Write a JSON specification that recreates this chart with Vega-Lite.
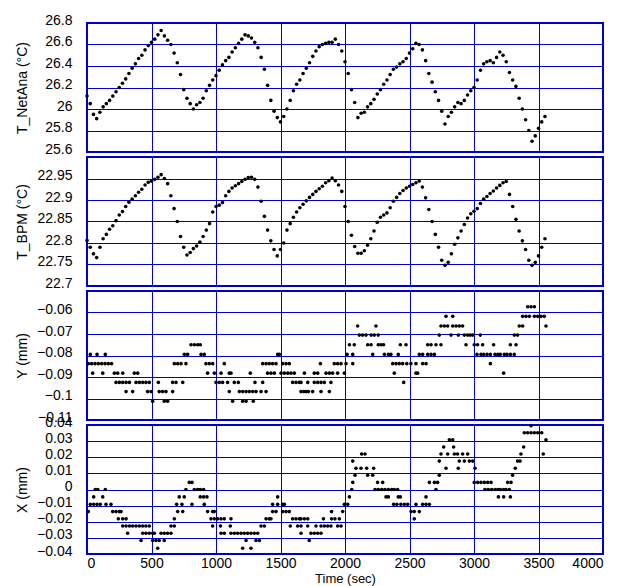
{
 "$schema": "https://vega.github.io/schema/vega-lite/v6.json",
 "padding": {"left": 14, "top": 12, "right": 2, "bottom": 0},
 "background": "white",
 "bounds": "flush",
 "spacing": 5,
 "config": {
  "view": {"stroke": "#0000CC", "strokeWidth": 2},
  "axis": {"grid": true, "gridColor": "#0000CC", "gridWidth": 1, "gridOpacity": 1, "domain": false, "ticks": false, "labelFont": "Liberation Sans", "labelFontSize": 14, "labelColor": "black", "titleFont": "Liberation Sans", "titleFontSize": 14, "titleFontWeight": "normal", "titleColor": "black"}
 },
 "datasets": {
  "tn": [
   {"t":0,"v":26.12},{"t":25,"v":26.05},{"t":50,"v":25.95},{"t":75,"v":25.91},{"t":100,"v":25.97},{"t":125,"v":26.02},{"t":150,"v":26.05},{"t":175,"v":26.08},{"t":200,"v":26.12},{"t":225,"v":26.16},{"t":250,"v":26.2},{"t":275,"v":26.24},{"t":300,"v":26.28},{"t":325,"v":26.33},{"t":350,"v":26.38},{"t":375,"v":26.42},{"t":400,"v":26.47},{"t":425,"v":26.5},{"t":450,"v":26.55},{"t":475,"v":26.59},{"t":500,"v":26.62},{"t":525,"v":26.65},{"t":550,"v":26.69},{"t":575,"v":26.73},{"t":600,"v":26.68},{"t":625,"v":26.64},{"t":650,"v":26.6},{"t":675,"v":26.52},{"t":700,"v":26.43},{"t":725,"v":26.32},{"t":750,"v":26.18},{"t":775,"v":26.1},{"t":800,"v":26.05},{"t":825,"v":26.0},{"t":850,"v":26.04},{"t":875,"v":26.06},{"t":900,"v":26.1},{"t":925,"v":26.17},{"t":950,"v":26.22},{"t":975,"v":26.27},{"t":1000,"v":26.31},{"t":1025,"v":26.36},{"t":1050,"v":26.41},{"t":1075,"v":26.45},{"t":1100,"v":26.48},{"t":1125,"v":26.53},{"t":1150,"v":26.57},{"t":1175,"v":26.61},{"t":1200,"v":26.65},{"t":1225,"v":26.69},{"t":1250,"v":26.68},{"t":1275,"v":26.66},{"t":1300,"v":26.62},{"t":1325,"v":26.57},{"t":1350,"v":26.48},{"t":1375,"v":26.37},{"t":1400,"v":26.22},{"t":1425,"v":26.08},{"t":1450,"v":25.98},{"t":1475,"v":25.92},{"t":1500,"v":25.88},{"t":1525,"v":25.93},{"t":1550,"v":26.0},{"t":1575,"v":26.08},{"t":1600,"v":26.17},{"t":1625,"v":26.23},{"t":1650,"v":26.27},{"t":1675,"v":26.33},{"t":1700,"v":26.38},{"t":1725,"v":26.43},{"t":1750,"v":26.49},{"t":1775,"v":26.54},{"t":1800,"v":26.58},{"t":1825,"v":26.6},{"t":1850,"v":26.61},{"t":1875,"v":26.62},{"t":1900,"v":26.62},{"t":1925,"v":26.65},{"t":1950,"v":26.6},{"t":1975,"v":26.54},{"t":2000,"v":26.44},{"t":2025,"v":26.33},{"t":2050,"v":26.18},{"t":2075,"v":26.06},{"t":2100,"v":25.92},{"t":2125,"v":25.96},{"t":2150,"v":25.97},{"t":2175,"v":26.02},{"t":2200,"v":26.05},{"t":2225,"v":26.09},{"t":2250,"v":26.14},{"t":2275,"v":26.18},{"t":2300,"v":26.23},{"t":2325,"v":26.27},{"t":2350,"v":26.32},{"t":2375,"v":26.37},{"t":2400,"v":26.39},{"t":2425,"v":26.42},{"t":2450,"v":26.44},{"t":2475,"v":26.47},{"t":2500,"v":26.52},{"t":2525,"v":26.56},{"t":2550,"v":26.61},{"t":2575,"v":26.6},{"t":2600,"v":26.55},{"t":2625,"v":26.45},{"t":2650,"v":26.33},{"t":2675,"v":26.25},{"t":2700,"v":26.16},{"t":2725,"v":26.08},{"t":2750,"v":25.98},{"t":2775,"v":25.86},{"t":2800,"v":25.93},{"t":2825,"v":25.97},{"t":2850,"v":26.02},{"t":2875,"v":26.06},{"t":2900,"v":26.05},{"t":2925,"v":26.08},{"t":2950,"v":26.13},{"t":2975,"v":26.17},{"t":3000,"v":26.2},{"t":3025,"v":26.27},{"t":3050,"v":26.36},{"t":3075,"v":26.42},{"t":3100,"v":26.44},{"t":3125,"v":26.45},{"t":3150,"v":26.43},{"t":3175,"v":26.48},{"t":3200,"v":26.53},{"t":3225,"v":26.5},{"t":3250,"v":26.44},{"t":3275,"v":26.34},{"t":3300,"v":26.27},{"t":3325,"v":26.21},{"t":3350,"v":26.1},{"t":3375,"v":26.0},{"t":3400,"v":25.9},{"t":3425,"v":25.8},{"t":3450,"v":25.7},{"t":3475,"v":25.75},{"t":3500,"v":25.82},{"t":3525,"v":25.88},{"t":3550,"v":25.93}
  ],
  "tb": [
   {"t":0,"v":22.806},{"t":25,"v":22.79},{"t":50,"v":22.775},{"t":75,"v":22.766},{"t":100,"v":22.79},{"t":125,"v":22.81},{"t":150,"v":22.82},{"t":175,"v":22.832},{"t":200,"v":22.84},{"t":225,"v":22.852},{"t":250,"v":22.865},{"t":275,"v":22.873},{"t":300,"v":22.885},{"t":325,"v":22.895},{"t":350,"v":22.902},{"t":375,"v":22.91},{"t":400,"v":22.918},{"t":425,"v":22.925},{"t":450,"v":22.935},{"t":475,"v":22.941},{"t":500,"v":22.944},{"t":525,"v":22.948},{"t":550,"v":22.953},{"t":575,"v":22.959},{"t":600,"v":22.95},{"t":625,"v":22.938},{"t":650,"v":22.91},{"t":675,"v":22.88},{"t":700,"v":22.85},{"t":725,"v":22.815},{"t":750,"v":22.79},{"t":775,"v":22.772},{"t":800,"v":22.778},{"t":825,"v":22.787},{"t":850,"v":22.793},{"t":875,"v":22.802},{"t":900,"v":22.815},{"t":925,"v":22.83},{"t":950,"v":22.845},{"t":975,"v":22.872},{"t":1000,"v":22.885},{"t":1025,"v":22.888},{"t":1050,"v":22.894},{"t":1075,"v":22.91},{"t":1100,"v":22.92},{"t":1125,"v":22.928},{"t":1150,"v":22.933},{"t":1175,"v":22.938},{"t":1200,"v":22.943},{"t":1225,"v":22.948},{"t":1250,"v":22.952},{"t":1275,"v":22.953},{"t":1300,"v":22.948},{"t":1325,"v":22.93},{"t":1350,"v":22.897},{"t":1375,"v":22.862},{"t":1400,"v":22.83},{"t":1425,"v":22.805},{"t":1450,"v":22.785},{"t":1475,"v":22.77},{"t":1500,"v":22.785},{"t":1525,"v":22.8},{"t":1550,"v":22.83},{"t":1575,"v":22.845},{"t":1600,"v":22.86},{"t":1625,"v":22.872},{"t":1650,"v":22.882},{"t":1675,"v":22.89},{"t":1700,"v":22.898},{"t":1725,"v":22.906},{"t":1750,"v":22.913},{"t":1775,"v":22.92},{"t":1800,"v":22.926},{"t":1825,"v":22.932},{"t":1850,"v":22.94},{"t":1875,"v":22.945},{"t":1900,"v":22.951},{"t":1925,"v":22.945},{"t":1950,"v":22.935},{"t":1975,"v":22.92},{"t":2000,"v":22.885},{"t":2025,"v":22.85},{"t":2050,"v":22.818},{"t":2075,"v":22.792},{"t":2100,"v":22.776},{"t":2125,"v":22.776},{"t":2150,"v":22.782},{"t":2175,"v":22.795},{"t":2200,"v":22.81},{"t":2225,"v":22.828},{"t":2250,"v":22.848},{"t":2275,"v":22.86},{"t":2300,"v":22.865},{"t":2325,"v":22.87},{"t":2350,"v":22.882},{"t":2375,"v":22.897},{"t":2400,"v":22.906},{"t":2425,"v":22.915},{"t":2450,"v":22.922},{"t":2475,"v":22.928},{"t":2500,"v":22.932},{"t":2525,"v":22.936},{"t":2550,"v":22.94},{"t":2575,"v":22.944},{"t":2600,"v":22.93},{"t":2625,"v":22.905},{"t":2650,"v":22.878},{"t":2675,"v":22.85},{"t":2700,"v":22.82},{"t":2725,"v":22.79},{"t":2750,"v":22.76},{"t":2775,"v":22.748},{"t":2800,"v":22.755},{"t":2825,"v":22.775},{"t":2850,"v":22.797},{"t":2875,"v":22.812},{"t":2900,"v":22.828},{"t":2925,"v":22.843},{"t":2950,"v":22.858},{"t":2975,"v":22.868},{"t":3000,"v":22.874},{"t":3025,"v":22.88},{"t":3050,"v":22.892},{"t":3075,"v":22.902},{"t":3100,"v":22.908},{"t":3125,"v":22.915},{"t":3150,"v":22.921},{"t":3175,"v":22.928},{"t":3200,"v":22.934},{"t":3225,"v":22.94},{"t":3250,"v":22.943},{"t":3275,"v":22.913},{"t":3300,"v":22.885},{"t":3325,"v":22.855},{"t":3350,"v":22.828},{"t":3375,"v":22.805},{"t":3400,"v":22.785},{"t":3425,"v":22.76},{"t":3450,"v":22.748},{"t":3475,"v":22.755},{"t":3500,"v":22.77},{"t":3525,"v":22.79},{"t":3550,"v":22.81}
  ],
  "y": [
   {"t":3416,"v":-0.0573},{"t":3442,"v":-0.0573},{"t":3468,"v":-0.0573},
   {"t":2783,"v":-0.0618},{"t":2835,"v":-0.0618},{"t":3377,"v":-0.0618},{"t":3403,"v":-0.0618},{"t":3429,"v":-0.0618},{"t":3468,"v":-0.0618},{"t":3494,"v":-0.0618},{"t":3520,"v":-0.0618},{"t":3545,"v":-0.0618},
   {"t":2098,"v":-0.0663},{"t":2240,"v":-0.0663},{"t":2744,"v":-0.0663},{"t":2770,"v":-0.0663},{"t":2796,"v":-0.0663},{"t":2835,"v":-0.0663},{"t":2861,"v":-0.0663},{"t":2886,"v":-0.0663},{"t":2912,"v":-0.0663},{"t":3351,"v":-0.0663},{"t":3377,"v":-0.0663},{"t":3558,"v":-0.0663},
   {"t":2111,"v":-0.0705},{"t":2137,"v":-0.0705},{"t":2163,"v":-0.0705},{"t":2202,"v":-0.0705},{"t":2227,"v":-0.0705},{"t":2258,"v":-0.0705},{"t":2731,"v":-0.0705},{"t":2822,"v":-0.0705},{"t":2878,"v":-0.0705},{"t":2925,"v":-0.0705},{"t":2951,"v":-0.0705},{"t":2971,"v":-0.0705},{"t":2990,"v":-0.0705},{"t":3049,"v":-0.0705},{"t":3312,"v":-0.0705},{"t":3338,"v":-0.0705},
   {"t":806,"v":-0.075},{"t":832,"v":-0.075},{"t":858,"v":-0.075},{"t":878,"v":-0.075},{"t":2034,"v":-0.075},{"t":2072,"v":-0.075},{"t":2176,"v":-0.075},{"t":2202,"v":-0.075},{"t":2258,"v":-0.075},{"t":2279,"v":-0.075},{"t":2299,"v":-0.075},{"t":2429,"v":-0.075},{"t":2473,"v":-0.075},{"t":2641,"v":-0.075},{"t":2667,"v":-0.075},{"t":2705,"v":-0.075},{"t":2744,"v":-0.075},{"t":2938,"v":-0.075},{"t":3002,"v":-0.075},{"t":3028,"v":-0.075},{"t":3067,"v":-0.075},{"t":3152,"v":-0.075},{"t":3282,"v":-0.075},{"t":3326,"v":-0.075},
   {"t":26,"v":-0.0795},{"t":78,"v":-0.0795},{"t":142,"v":-0.0795},{"t":754,"v":-0.0795},{"t":780,"v":-0.0795},{"t":884,"v":-0.0795},{"t":909,"v":-0.0795},{"t":1478,"v":-0.0795},{"t":1491,"v":-0.0795},{"t":2016,"v":-0.0795},{"t":2060,"v":-0.0795},{"t":2215,"v":-0.0795},{"t":2305,"v":-0.0795},{"t":2336,"v":-0.0795},{"t":2356,"v":-0.0795},{"t":2413,"v":-0.0795},{"t":2576,"v":-0.0795},{"t":2602,"v":-0.0795},{"t":2641,"v":-0.0795},{"t":2667,"v":-0.0795},{"t":2693,"v":-0.0795},{"t":3023,"v":-0.0795},{"t":3054,"v":-0.0795},{"t":3075,"v":-0.0795},{"t":3101,"v":-0.0795},{"t":3127,"v":-0.0795},{"t":3163,"v":-0.0795},{"t":3184,"v":-0.0795},{"t":3204,"v":-0.0795},{"t":3235,"v":-0.0795},{"t":3256,"v":-0.0795},{"t":3282,"v":-0.0795},{"t":3312,"v":-0.0795},
   {"t":10,"v":-0.0838},{"t":36,"v":-0.0838},{"t":62,"v":-0.0838},{"t":88,"v":-0.0838},{"t":114,"v":-0.0838},{"t":140,"v":-0.0838},{"t":165,"v":-0.0838},{"t":191,"v":-0.0838},{"t":677,"v":-0.0838},{"t":703,"v":-0.0838},{"t":729,"v":-0.0838},{"t":767,"v":-0.0838},{"t":922,"v":-0.0838},{"t":948,"v":-0.0838},{"t":974,"v":-0.0838},{"t":1064,"v":-0.0838},{"t":1362,"v":-0.0838},{"t":1388,"v":-0.0838},{"t":1413,"v":-0.0838},{"t":1439,"v":-0.0838},{"t":1465,"v":-0.0838},{"t":1517,"v":-0.0838},{"t":1543,"v":-0.0838},{"t":1568,"v":-0.0838},{"t":1809,"v":-0.0838},{"t":1917,"v":-0.0838},{"t":1943,"v":-0.0838},{"t":1969,"v":-0.0838},{"t":2008,"v":-0.0838},{"t":2060,"v":-0.0838},{"t":2370,"v":-0.0838},{"t":2396,"v":-0.0838},{"t":2421,"v":-0.0838},{"t":2447,"v":-0.0838},{"t":2479,"v":-0.0838},{"t":2511,"v":-0.0838},{"t":2550,"v":-0.0838},{"t":2602,"v":-0.0838},{"t":2628,"v":-0.0838},{"t":3127,"v":-0.0838},
   {"t":44,"v":-0.0882},{"t":122,"v":-0.0882},{"t":212,"v":-0.0882},{"t":238,"v":-0.0882},{"t":277,"v":-0.0882},{"t":367,"v":-0.0882},{"t":393,"v":-0.0882},{"t":935,"v":-0.0882},{"t":987,"v":-0.0882},{"t":1039,"v":-0.0882},{"t":1103,"v":-0.0882},{"t":1116,"v":-0.0882},{"t":1266,"v":-0.0882},{"t":1400,"v":-0.0882},{"t":1426,"v":-0.0882},{"t":1452,"v":-0.0882},{"t":1504,"v":-0.0882},{"t":1530,"v":-0.0882},{"t":1556,"v":-0.0882},{"t":1581,"v":-0.0882},{"t":1607,"v":-0.0882},{"t":1685,"v":-0.0882},{"t":1762,"v":-0.0882},{"t":1788,"v":-0.0882},{"t":1853,"v":-0.0882},{"t":1879,"v":-0.0882},{"t":1904,"v":-0.0882},{"t":1943,"v":-0.0882},{"t":1995,"v":-0.0882},{"t":2382,"v":-0.0882},{"t":2550,"v":-0.0882},{"t":2563,"v":-0.0882},{"t":3230,"v":-0.0882},
   {"t":225,"v":-0.0925},{"t":251,"v":-0.0925},{"t":277,"v":-0.0925},{"t":303,"v":-0.0925},{"t":329,"v":-0.0925},{"t":380,"v":-0.0925},{"t":406,"v":-0.0925},{"t":432,"v":-0.0925},{"t":457,"v":-0.0925},{"t":483,"v":-0.0925},{"t":553,"v":-0.0925},{"t":664,"v":-0.0925},{"t":690,"v":-0.0925},{"t":742,"v":-0.0925},{"t":1000,"v":-0.0925},{"t":1026,"v":-0.0925},{"t":1051,"v":-0.0925},{"t":1090,"v":-0.0925},{"t":1142,"v":-0.0925},{"t":1173,"v":-0.0925},{"t":1302,"v":-0.0925},{"t":1362,"v":-0.0925},{"t":1594,"v":-0.0925},{"t":1620,"v":-0.0925},{"t":1646,"v":-0.0925},{"t":1659,"v":-0.0925},{"t":1711,"v":-0.0925},{"t":1762,"v":-0.0925},{"t":1788,"v":-0.0925},{"t":1814,"v":-0.0925},{"t":1840,"v":-0.0925},{"t":1891,"v":-0.0925},{"t":2455,"v":-0.0925},
   {"t":303,"v":-0.0968},{"t":354,"v":-0.0968},{"t":470,"v":-0.0968},{"t":496,"v":-0.0968},{"t":560,"v":-0.0968},{"t":586,"v":-0.0968},{"t":612,"v":-0.0968},{"t":664,"v":-0.0968},{"t":1103,"v":-0.0968},{"t":1181,"v":-0.0968},{"t":1207,"v":-0.0968},{"t":1233,"v":-0.0968},{"t":1258,"v":-0.0968},{"t":1284,"v":-0.0968},{"t":1310,"v":-0.0968},{"t":1349,"v":-0.0968},{"t":1388,"v":-0.0968},{"t":1659,"v":-0.0968},{"t":1680,"v":-0.0968},{"t":1698,"v":-0.0968},{"t":1716,"v":-0.0968},{"t":1749,"v":-0.0968},{"t":1814,"v":-0.0968},{"t":1879,"v":-0.0968},
   {"t":509,"v":-0.1013},{"t":599,"v":-0.1013},{"t":625,"v":-0.1013},{"t":1129,"v":-0.1013},{"t":1207,"v":-0.1013},{"t":1233,"v":-0.1013},{"t":1289,"v":-0.1013}
  ],
  "x": [
   {"t":3442,"v":0.0396},
   {"t":3390,"v":0.0352},{"t":3416,"v":0.0352},{"t":3442,"v":0.0352},{"t":3468,"v":0.0352},{"t":3494,"v":0.0352},{"t":3525,"v":0.0352},
   {"t":2809,"v":0.0308},{"t":2835,"v":0.0308},{"t":3558,"v":0.0308},
   {"t":2765,"v":0.0264},{"t":2842,"v":0.0264},{"t":3385,"v":0.0264},
   {"t":2129,"v":0.022},{"t":2155,"v":0.022},{"t":2744,"v":0.022},{"t":2796,"v":0.022},{"t":2848,"v":0.022},{"t":2873,"v":0.022},{"t":2912,"v":0.022},{"t":2951,"v":0.022},{"t":3364,"v":0.022},{"t":3537,"v":0.022},
   {"t":2060,"v":0.0176},{"t":2731,"v":0.0176},{"t":2886,"v":0.0176},{"t":2925,"v":0.0176},{"t":2964,"v":0.0176},{"t":2990,"v":0.0176},{"t":3338,"v":0.0176},{"t":3357,"v":0.0176},
   {"t":2085,"v":0.0132},{"t":2124,"v":0.0132},{"t":2168,"v":0.0132},{"t":2222,"v":0.0132},{"t":2783,"v":0.0132},{"t":2878,"v":0.0132},{"t":3008,"v":0.0132},{"t":3320,"v":0.0132},
   {"t":2078,"v":0.0088},{"t":2176,"v":0.0088},{"t":2215,"v":0.0088},{"t":2731,"v":0.0088},{"t":3299,"v":0.0088},
   {"t":793,"v":0.0044},{"t":814,"v":0.0044},{"t":2060,"v":0.0044},{"t":2253,"v":0.0044},{"t":2292,"v":0.0044},{"t":2654,"v":0.0044},{"t":2693,"v":0.0044},{"t":2718,"v":0.0044},{"t":3002,"v":0.0044},{"t":3028,"v":0.0044},{"t":3054,"v":0.0044},{"t":3080,"v":0.0044},{"t":3106,"v":0.0044},{"t":3132,"v":0.0044},{"t":3261,"v":0.0044},{"t":3287,"v":0.0044},
   {"t":64,"v":0},{"t":83,"v":0},{"t":142,"v":0},{"t":767,"v":0},{"t":832,"v":0},{"t":858,"v":0},{"t":878,"v":0},{"t":904,"v":0},{"t":2052,"v":0},{"t":2233,"v":0},{"t":2258,"v":0},{"t":2285,"v":0},{"t":2310,"v":0},{"t":2336,"v":0},{"t":2362,"v":0},{"t":2382,"v":0},{"t":2408,"v":0},{"t":2705,"v":0},{"t":3085,"v":0},{"t":3110,"v":0},{"t":3137,"v":0},{"t":3163,"v":0},{"t":3184,"v":0},{"t":3204,"v":0},{"t":3230,"v":0},{"t":3248,"v":0},{"t":3274,"v":0},
   {"t":52,"v":-0.0046},{"t":122,"v":-0.0046},{"t":715,"v":-0.0046},{"t":754,"v":-0.0046},{"t":878,"v":-0.0046},{"t":904,"v":-0.0046},{"t":930,"v":-0.0046},{"t":1478,"v":-0.0046},{"t":2034,"v":-0.0046},{"t":2318,"v":-0.0046},{"t":2336,"v":-0.0046},{"t":2413,"v":-0.0046},{"t":2429,"v":-0.0046},{"t":2628,"v":-0.0046},{"t":3189,"v":-0.0046},{"t":3230,"v":-0.0046},{"t":3282,"v":-0.0046},
   {"t":26,"v":-0.0092},{"t":52,"v":-0.0092},{"t":78,"v":-0.0092},{"t":103,"v":-0.0092},{"t":147,"v":-0.0092},{"t":186,"v":-0.0092},{"t":695,"v":-0.0092},{"t":736,"v":-0.0092},{"t":814,"v":-0.0092},{"t":909,"v":-0.0092},{"t":1439,"v":-0.0092},{"t":1478,"v":-0.0092},{"t":1517,"v":-0.0092},{"t":1530,"v":-0.0092},{"t":1995,"v":-0.0092},{"t":2021,"v":-0.0092},{"t":2377,"v":-0.0092},{"t":2402,"v":-0.0092},{"t":2433,"v":-0.0092},{"t":2460,"v":-0.0092},{"t":2486,"v":-0.0092},{"t":2550,"v":-0.0092},{"t":2602,"v":-0.0092},{"t":2628,"v":-0.0092},{"t":2654,"v":-0.0092},
   {"t":10,"v":-0.0137},{"t":199,"v":-0.0137},{"t":225,"v":-0.0137},{"t":251,"v":-0.0137},{"t":264,"v":-0.0137},{"t":703,"v":-0.0137},{"t":742,"v":-0.0137},{"t":935,"v":-0.0137},{"t":974,"v":-0.0137},{"t":987,"v":-0.0137},{"t":1439,"v":-0.0137},{"t":1465,"v":-0.0137},{"t":1517,"v":-0.0137},{"t":1543,"v":-0.0137},{"t":1568,"v":-0.0137},{"t":1896,"v":-0.0137},{"t":1982,"v":-0.0137},{"t":2512,"v":-0.0137},{"t":2537,"v":-0.0137},{"t":2576,"v":-0.0137},
   {"t":243,"v":-0.0182},{"t":277,"v":-0.0182},{"t":303,"v":-0.0182},{"t":677,"v":-0.0182},{"t":961,"v":-0.0182},{"t":987,"v":-0.0182},{"t":1013,"v":-0.0182},{"t":1039,"v":-0.0182},{"t":1064,"v":-0.0182},{"t":1116,"v":-0.0182},{"t":1388,"v":-0.0182},{"t":1413,"v":-0.0182},{"t":1426,"v":-0.0182},{"t":1594,"v":-0.0182},{"t":1620,"v":-0.0182},{"t":1646,"v":-0.0182},{"t":1659,"v":-0.0182},{"t":1685,"v":-0.0182},{"t":1711,"v":-0.0182},{"t":1833,"v":-0.0182},{"t":1896,"v":-0.0182},{"t":1922,"v":-0.0182},{"t":1956,"v":-0.0182},{"t":2537,"v":-0.0182},
   {"t":277,"v":-0.0226},{"t":303,"v":-0.0226},{"t":329,"v":-0.0226},{"t":354,"v":-0.0226},{"t":380,"v":-0.0226},{"t":406,"v":-0.0226},{"t":432,"v":-0.0226},{"t":457,"v":-0.0226},{"t":483,"v":-0.0226},{"t":651,"v":-0.0226},{"t":677,"v":-0.0226},{"t":974,"v":-0.0226},{"t":1034,"v":-0.0226},{"t":1111,"v":-0.0226},{"t":1349,"v":-0.0226},{"t":1375,"v":-0.0226},{"t":1576,"v":-0.0226},{"t":1633,"v":-0.0226},{"t":1659,"v":-0.0226},{"t":1711,"v":-0.0226},{"t":1775,"v":-0.0226},{"t":1814,"v":-0.0226},{"t":1840,"v":-0.0226},{"t":1866,"v":-0.0226},{"t":1891,"v":-0.0226},{"t":1943,"v":-0.0226},{"t":1969,"v":-0.0226},
   {"t":315,"v":-0.0271},{"t":432,"v":-0.0271},{"t":457,"v":-0.0271},{"t":483,"v":-0.0271},{"t":509,"v":-0.0271},{"t":522,"v":-0.0271},{"t":574,"v":-0.0271},{"t":599,"v":-0.0271},{"t":625,"v":-0.0271},{"t":651,"v":-0.0271},{"t":1039,"v":-0.0271},{"t":1064,"v":-0.0271},{"t":1116,"v":-0.0271},{"t":1142,"v":-0.0271},{"t":1168,"v":-0.0271},{"t":1194,"v":-0.0271},{"t":1219,"v":-0.0271},{"t":1245,"v":-0.0271},{"t":1271,"v":-0.0271},{"t":1297,"v":-0.0271},{"t":1323,"v":-0.0271},{"t":1659,"v":-0.0271},{"t":1736,"v":-0.0271},{"t":1762,"v":-0.0271},{"t":1788,"v":-0.0271},{"t":1814,"v":-0.0271},
   {"t":419,"v":-0.0316},{"t":509,"v":-0.0316},{"t":535,"v":-0.0316},{"t":560,"v":-0.0316},{"t":599,"v":-0.0316},{"t":1233,"v":-0.0316},{"t":1310,"v":-0.0316},{"t":1336,"v":-0.0316},{"t":1723,"v":-0.0316},
   {"t":548,"v":-0.0364},{"t":1207,"v":-0.0364},{"t":1271,"v":-0.0364}
  ]
 },
 "vconcat": [
  {
   "width": 516, "height": 129,
   "data": {"name": "tn"},
   "mark": {"type": "point", "filled": true, "color": "black", "size": 13, "opacity": 1},
   "encoding": {
    "x": {"field": "t", "type": "quantitative", "scale": {"domain": [0, 4000], "nice": false}, "axis": {"values": [0,500,1000,1500,2000,2500,3000,3500,4000], "labels": false, "title": null}},
    "y": {"field": "v", "type": "quantitative", "scale": {"domain": [25.6, 26.8], "nice": false, "zero": false}, "axis": {"values": [25.6,25.8,26,26.2,26.4,26.6,26.8], "format": "~g", "labelPadding": 15, "labelOffset": -3, "title": "T_NetAna  (°C)", "titleX": -65, "titleY": 64.5, "titleAngle": 270, "titleAlign": "center", "titleBaseline": "middle"}}
   }
  },
  {
   "width": 516, "height": 129,
   "data": {"name": "tb"},
   "mark": {"type": "point", "filled": true, "color": "black", "size": 13, "opacity": 1},
   "encoding": {
    "x": {"field": "t", "type": "quantitative", "scale": {"domain": [0, 4000], "nice": false}, "axis": {"values": [0,500,1000,1500,2000,2500,3000,3500,4000], "labels": false, "title": null}},
    "y": {"field": "v", "type": "quantitative", "scale": {"domain": [22.7, 23.0], "nice": false, "zero": false}, "axis": {"values": [22.7,22.75,22.8,22.85,22.9,22.95,23.0], "format": "~g", "labelExpr": "datum.value > 22.99 ? '' : datum.label", "labelPadding": 15, "labelOffset": -3, "title": "T_BPM (°C)", "titleX": -65, "titleY": 64.5, "titleAngle": 270, "titleAlign": "center", "titleBaseline": "middle"}}
   }
  },
  {
   "width": 516, "height": 129,
   "data": {"name": "y"},
   "mark": {"type": "point", "filled": true, "color": "black", "size": 13, "opacity": 1},
   "encoding": {
    "x": {"field": "t", "type": "quantitative", "scale": {"domain": [0, 4000], "nice": false}, "axis": {"values": [0,500,1000,1500,2000,2500,3000,3500,4000], "labels": false, "title": null}},
    "y": {"field": "v", "type": "quantitative", "scale": {"domain": [-0.11, -0.05], "nice": false, "zero": false}, "axis": {"values": [-0.11,-0.1,-0.09,-0.08,-0.07,-0.06,-0.05], "format": "~g", "labelExpr": "datum.value > -0.051 ? '' : datum.label", "labelPadding": 15, "labelOffset": -3, "title": "Y (mm)", "titleX": -65, "titleY": 64.5, "titleAngle": 270, "titleAlign": "center", "titleBaseline": "middle"}}
   }
  },
  {
   "width": 516, "height": 129,
   "data": {"name": "x"},
   "mark": {"type": "point", "filled": true, "color": "black", "size": 13, "opacity": 1},
   "encoding": {
    "x": {"field": "t", "type": "quantitative", "scale": {"domain": [0, 4000], "nice": false}, "axis": {"values": [0,500,1000,1500,2000,2500,3000,3500,4000], "format": "d", "labelPadding": 2, "title": "Time (sec)", "titleFontSize": 13, "titlePadding": 2}},
    "y": {"field": "v", "type": "quantitative", "scale": {"domain": [-0.04, 0.04], "nice": false, "zero": false}, "axis": {"values": [-0.04,-0.03,-0.02,-0.01,0,0.01,0.02,0.03,0.04], "format": "~g", "labelPadding": 15, "labelOffset": -3, "title": "X (mm)", "titleX": -65, "titleY": 64.5, "titleAngle": 270, "titleAlign": "center", "titleBaseline": "middle"}}
   }
  }
 ]
}
